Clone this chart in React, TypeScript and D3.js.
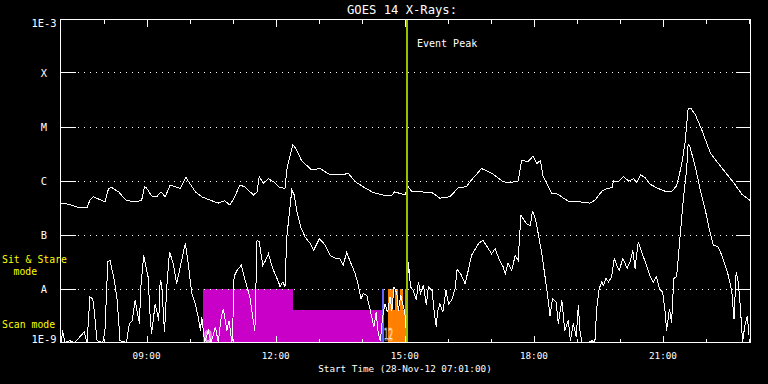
import React, { useEffect } from "react";
import * as d3 from "d3";

// Time in minutes after 07:00 UT, flux in W/m^2
const longChannel: [number, number][] = [
  [1, 3.9e-7], [11, 3.7e-7], [23, 3.3e-7], [37, 3.2e-7], [41, 4.4e-7], [46, 5.1e-7], [62, 4.1e-7],
  [67, 7.3e-7], [71, 7.6e-7], [81, 6.3e-7], [92, 4.3e-7], [104, 4.2e-7], [113, 4.3e-7], [117, 7.8e-7],
  [120, 7.4e-7], [127, 5.3e-7], [134, 5.1e-7], [140, 6.3e-7], [146, 5.1e-7], [153, 8.4e-7], [160, 7.8e-7],
  [167, 7.3e-7], [175, 1.2e-6], [178, 1.0e-6], [188, 6.3e-7], [197, 5.1e-7], [209, 4.4e-7], [220, 3.9e-7],
  [229, 4.3e-7], [236, 3.6e-7], [242, 4.8e-7], [250, 8.4e-7], [257, 7.8e-7], [269, 5.5e-7], [274, 6.3e-7],
  [277, 1.2e-6], [283, 9.1e-7], [290, 1.1e-6], [297, 9.7e-7], [305, 7.6e-7], [313, 7.3e-7], [316, 1.8e-6],
  [324, 4.7e-6], [329, 3.8e-6], [336, 2.4e-6], [350, 1.6e-6], [362, 1.7e-6], [376, 1.3e-6], [394, 1.3e-6],
  [401, 1.4e-6], [411, 9.7e-7], [422, 7.8e-7], [436, 6.1e-7], [450, 5.5e-7], [462, 5.5e-7], [466, 6.3e-7],
  [473, 5.9e-7], [480, 5.5e-7], [485, 7.8e-7], [490, 6.3e-7], [501, 6.3e-7], [518, 6.1e-7], [529, 4.8e-7],
  [543, 5.1e-7], [555, 7.6e-7], [566, 7.8e-7], [571, 9.7e-7], [587, 1.7e-6], [601, 1.4e-6], [617, 9.7e-7],
  [627, 9.3e-7], [638, 1.0e-6], [643, 2.4e-6], [652, 2.3e-6], [659, 2.9e-6], [664, 2.1e-6], [669, 2.4e-6],
  [673, 1.2e-6], [685, 5.9e-7], [694, 5.7e-7], [701, 4.8e-7], [710, 4.1e-7], [724, 4.1e-7], [738, 3.9e-7],
  [745, 4.4e-7], [755, 6.5e-7], [762, 7.3e-7], [769, 7.5e-7], [771, 1.0e-6], [778, 9.7e-7], [785, 1.2e-6],
  [792, 1.0e-6], [799, 1.1e-6], [803, 9.4e-7], [809, 1.3e-6], [815, 1.15e-6], [822, 8.7e-7], [833, 7.3e-7],
  [845, 6.3e-7], [852, 6.3e-7], [859, 8.2e-7], [866, 2.0e-6], [871, 5.4e-6], [875, 2.2e-5], [879, 2.2e-5],
  [885, 1.7e-5], [894, 8.9e-6], [906, 3.3e-6], [915, 2.3e-6], [926, 1.5e-6], [938, 9.5e-7], [950, 5.7e-7],
  [961, 4.4e-7],
];

const shortChannel: [number, number][] = [
  [1, 1.0e-9], [3, 1.7e-9], [6, 1.0e-9], [13, 1.1e-9], [20, 1.0e-9], [33, 1.6e-9], [37, 1.0e-9],
  [41, 7.1e-9], [45, 6.6e-9], [47, 4.0e-9], [51, 1.1e-9], [59, 1.0e-9], [62, 1.7e-9], [66, 3.2e-8],
  [69, 3.4e-8], [75, 1.45e-8], [79, 6.2e-9], [83, 1.1e-9], [92, 1.0e-9], [96, 2.3e-9], [100, 2.6e-9],
  [104, 6.2e-9], [110, 2.3e-9], [112, 1.1e-8], [116, 4.2e-8], [122, 1.7e-8], [125, 3.0e-9], [127, 1.5e-9],
  [132, 5.3e-9], [137, 2.6e-9], [139, 1.45e-8], [141, 1.26e-8], [145, 1.6e-9], [148, 1.0e-8], [152, 4.9e-8],
  [157, 3.0e-8], [162, 1.26e-8], [168, 3.0e-8], [174, 7.0e-8], [178, 3.0e-8], [183, 8.2e-9], [188, 5.3e-9],
  [192, 3.0e-9], [195, 1.7e-9], [197, 3.0e-9], [201, 1.0e-9], [206, 1.7e-9], [210, 1.0e-9], [216, 2.0e-9],
  [220, 1.0e-9], [224, 3.0e-9], [227, 4.3e-9], [232, 1.7e-9], [235, 2.6e-9], [239, 1.0e-9], [240, 1.6e-9],
  [242, 1.7e-8], [246, 2.2e-8], [252, 2.75e-8], [256, 1.7e-8], [260, 1.1e-8], [264, 7.1e-9], [268, 3.0e-9],
  [271, 1.7e-9], [274, 8.0e-8], [277, 7.5e-8], [282, 2.75e-8], [285, 3.2e-8], [290, 4.5e-8], [295, 2.6e-8],
  [299, 1.9e-8], [304, 1.35e-8], [306, 1.1e-8], [310, 1.35e-8], [313, 1.1e-8], [315.5, 9.2e-8], [319, 2.5e-7],
  [322.5, 6.8e-7], [326, 5.5e-7], [329.5, 2.7e-7], [335, 1.4e-7], [341, 9.2e-8], [348, 7.0e-8], [353, 5.2e-8],
  [361, 8.6e-8], [369, 6.5e-8], [376, 4.2e-8], [383, 3.7e-8], [389, 3.7e-8], [394, 2.75e-8], [399, 4.7e-8],
  [404, 3.2e-8], [411, 1.9e-8], [415, 1.2e-8], [419, 6.6e-9], [422, 8.2e-9], [427, 7.6e-9], [431, 4.6e-9],
  [434, 3.0e-9], [437, 2.0e-9], [440, 3.7e-9], [443, 1.5e-9], [446, 1.1e-9], [449, 3.0e-9], [452.5, 5.3e-9],
  [456, 3.7e-9], [459.5, 7.1e-9], [462, 4.0e-9], [465, 1.1e-8], [469, 8.2e-9], [471, 4.0e-9], [474.5, 7.6e-9],
  [477, 5.3e-9], [480, 3.7e-9], [482, 1.7e-9], [485, 3.2e-8], [488, 1.1e-8], [492, 9.4e-9], [496, 6.2e-9],
  [499, 1.35e-8], [502, 8.2e-9], [506, 1.17e-8], [510, 5.0e-9], [513, 1.1e-8], [518, 9.4e-9], [521, 3.7e-9],
  [524, 2.0e-9], [525.5, 3.7e-9], [529, 5.3e-9], [533, 3.7e-9], [537.5, 9.4e-9], [541, 5.3e-9], [545.5, 6.2e-9],
  [550, 1.0e-8], [553, 2.3e-8], [558, 1.9e-8], [564, 1.26e-8], [568.5, 2.2e-8], [573, 4.2e-8], [583, 7.0e-8],
  [589, 8.0e-8], [595, 6.0e-8], [601, 4.5e-8], [606, 5.6e-8], [612, 3.4e-8], [617, 2.6e-8], [620, 1.9e-8],
  [624, 3.0e-8], [629, 2.2e-8], [634, 4.2e-8], [638, 3.4e-8], [642, 2.3e-7], [646, 1.9e-7], [650, 1.6e-7],
  [655, 1.5e-7], [658, 2.8e-7], [662, 2.0e-7], [666, 1.07e-7], [671, 4.5e-8], [675.5, 1.7e-8], [680, 6.2e-9],
  [682.5, 3.2e-9], [686, 6.6e-9], [691, 5.7e-9], [694, 2.3e-9], [699, 6.2e-9], [703, 1.7e-9], [708, 2.6e-9],
  [711, 1.1e-9], [715, 2.3e-9], [719, 1.3e-9], [722, 5.0e-9], [724, 1.8e-9], [727, 1.0e-9], [736, 1.0e-9],
  [741, 1.1e-9], [745, 1.0e-9], [747.5, 4.3e-9], [751, 1.0e-8], [754.5, 1.35e-8], [757, 1.17e-8], [760.5, 1.56e-8],
  [764, 1.35e-8], [768.5, 1.7e-8], [772, 3.7e-8], [775.5, 2.75e-8], [779, 2.2e-8], [784, 3.7e-8], [787, 3.0e-8],
  [790, 2.4e-8], [794, 3.2e-8], [798, 5.2e-8], [801, 2.4e-8], [805.5, 7.5e-8], [810, 4.9e-8], [817, 2.75e-8],
  [822, 1.7e-8], [826.5, 1.35e-8], [831, 1.7e-8], [835, 1.0e-8], [839.5, 8.8e-9], [843, 3.7e-9], [845, 1.7e-9],
  [849, 4.3e-9], [852, 2.4e-9], [855, 1.56e-8], [859, 1.7e-8], [864, 9.9e-8], [868, 4.1e-7], [873, 1.7e-6],
  [875, 4.8e-6], [877.5, 4.3e-6], [882, 2.6e-6], [887, 1.4e-6], [892.5, 6.3e-7], [898.5, 3.1e-7], [904.5, 1.3e-7],
  [910, 6.5e-8], [917, 6.0e-8], [922, 4.2e-8], [926.5, 2.75e-8], [931, 1.8e-8], [936, 8.8e-9], [939, 2.8e-9],
  [942, 2.07e-8], [945, 1.35e-8], [948, 4.3e-9], [951, 1.0e-9], [954, 2.1e-9], [957.5, 3.2e-9], [960, 1.4e-9],
];

// Instrument mode bars: [start minute, end minute, level]
const magentaBars: [number, number, number][] = [
  [198.5, 324, 1e-8],
  [324, 448.2, 4e-9],
];
const blueBars: [number, number, number][] = [[448.2, 451.5, 1e-8]];
const orangeBars: [number, number, number][] = [
  [456.6, 463.9, 1e-8], [463.9, 466.3, 4e-9], [466.3, 470.9, 1e-8], [470.9, 473.3, 4e-9],
  [473.3, 477.8, 1e-8], [477.8, 480.2, 4e-9], [480.2, 482.3, 1e-8],
];
const barNumbers: [number, string][] = [[200, "0"], [451, "12"]];

const eventPeak = 483.3;
const yLevels: [number, string][] = [
  [1e-3, "1E-3"], [1e-4, "X"], [1e-5, "M"], [1e-6, "C"], [1e-7, "B"], [1e-8, "A"], [1e-9, "1E-9"],
];
const xLabels: [number, string][] = [
  [120, "09:00"], [300, "12:00"], [480, "15:00"], [660, "18:00"], [840, "21:00"],
];
const hourTicks = d3.range(60, 961, 60);
const title = "GOES 14 X-Rays:";
const xTitle = "Start Time (28-Nov-12 07:01:00)";

const W = 768, H = 384;
const L = 60.5, R = 750.5, T = 19.5, B = 342.5;
const FONT = "'DejaVu Sans Mono', monospace";

export default function App() {
  useEffect(() => {
    document.body.style.margin = "0";
    document.body.style.background = "#000";
  }, []);
  const x = d3.scaleLinear().domain([0, 962]).range([L, R]);
  const y = d3.scaleLog().domain([1e-9, 1e-3]).range([343, 19]);
  const yc = (v: number) => Math.min(B, y(Math.max(v, 1e-9)));
  const line = d3.line<[number, number]>().x((d) => x(d[0])).y((d) => yc(d[1]));
  const row = (v: number) => Math.floor(y(v)) + 0.5;
  const bars = (data: [number, number, number][], color: string) =>
    data.map((d, i) => (
      <rect key={color + i} x={x(d[0])} y={y(d[2])} width={x(d[1]) - x(d[0])} height={343 - y(d[2])} fill={color} />
    ));
  const major = new Set(xLabels.map((d) => d[0]));
  return (
    <svg width={W} height={H} style={{ position: "fixed", left: 0, top: 0, background: "#000" }} fontFamily={FONT}>
      <rect x={0} y={0} width={W} height={H} fill="#000" />
      <defs>
        <clipPath id="plot">
          <rect x={L} y={T} width={R - L} height={343 - T} />
        </clipPath>
      </defs>
      <g shapeRendering="crispEdges">
        {bars(magentaBars, "#c800c8")}
        {bars(blueBars, "#6464ff")}
        {bars(orangeBars, "#ff8000")}
      </g>
      {barNumbers.map(([t, s]) => (
        <text key={s} x={x(t)} y={s === "0" ? 342 : 340} fontSize={15} fill="none" stroke="#fff" strokeWidth={0.7}
          textLength={s === "0" ? 8 : 9} lengthAdjust="spacingAndGlyphs" fontFamily="'DejaVu Sans', sans-serif">{s}</text>
      ))}
      <g shapeRendering="crispEdges" stroke="#fff" strokeWidth={1}>
        {yLevels.slice(1, 6).map(([v]) => (
          <g key={v}>
            <line x1={L} x2={L + 15} y1={row(v)} y2={row(v)} />
            <line x1={R - 15} x2={R} y1={row(v)} y2={row(v)} />
            <line x1={78} x2={736} y1={row(v)} y2={row(v)} strokeDasharray="1 5" />
          </g>
        ))}
        {hourTicks.map((t) => {
          const len = major.has(t) ? 7 : 4;
          const xx = Math.round(x(t)) + 0.5;
          return (
            <g key={t}>
              <line x1={xx} x2={xx} y1={T} y2={T + len} />
              <line x1={xx} x2={xx} y1={B} y2={B - len} />
            </g>
          );
        })}
      </g>
      <g clipPath="url(#plot)" fill="none" stroke="#fff" strokeWidth={1} shapeRendering="crispEdges">
        <path d={line(longChannel) || ""} />
        <path d={line(shortChannel) || ""} />
      </g>
      <line x1={x(eventPeak)} x2={x(eventPeak)} y1={T} y2={343} stroke="#98bf00" strokeWidth={2} shapeRendering="crispEdges" />
      <rect x={L} y={T} width={R - L} height={B - T} fill="none" stroke="#fff" strokeWidth={1} shapeRendering="crispEdges" />
      <text x={417} y={46.5} fontSize={10} fill="#fff">Event Peak</text>
      <text x={402} y={13.5} fontSize={12.2} fill="#fff" textAnchor="middle">{title}</text>
      {yLevels.map(([v, s]) => {
        const c = Math.min(339.5, Math.max(23, y(v)));
        return (
          <text key={s} x={44} y={c + 3.8} fontSize={10.4} fill="#fff" textAnchor="middle">{s}</text>
        );
      })}
      {xLabels.map(([t, s]) => (
        <text key={s} x={x(t)} y={358.5} fontSize={9.3} fill="#fff" textAnchor="middle">{s}</text>
      ))}
      <text x={405} y={371.5} fontSize={9.3} fill="#fff" textAnchor="middle">{xTitle}</text>
      <text x={2} y={263} fontSize={9.8} fill="#ffff00">Sit &amp; Stare</text>
      <text x={13.5} y={275} fontSize={9.8} fill="#ffff00">mode</text>
      <text x={2} y={327.5} fontSize={9.8} fill="#ffff00">Scan mode</text>
    </svg>
  );
}
